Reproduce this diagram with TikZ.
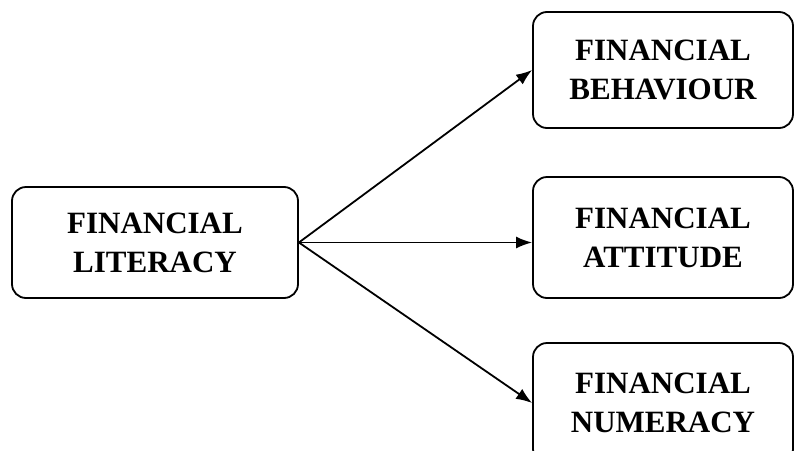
\documentclass[tikz,border=0pt]{standalone}
\usepackage{fontspec}
\setmainfont{Liberation Serif}
\usetikzlibrary{arrows.meta}
\tikzset{
box/.style={draw,line width=1.8pt,rounded corners=14pt,align=center,font=\fontsize{31}{39}\selectfont\bfseries,inner sep=0pt},
arr/.style={-{Latex[length=16pt,width=12pt]},line width=1.8pt}
}
\begin{document}
\begin{tikzpicture}[x=1pt,y=-1pt]
\useasboundingbox(0,0) rectangle (795,450);
\node[box,minimum width=286pt,minimum height=111pt](lit) at (155,242.5) {FINANCIAL\\LITERACY};
\node[box,minimum width=260pt,minimum height=116pt](beh) at (663,70) {FINANCIAL\\BEHAVIOUR};
\node[box,minimum width=260pt,minimum height=121pt](att) at (663,237.5) {FINANCIAL\\ATTITUDE};
\node[box,minimum width=260pt,minimum height=120pt](num) at (663,403) {FINANCIAL\\NUMERACY};
\draw[arr](lit.east)--(beh.west);
\draw[arr](lit.east)--(lit.east-|att.west);
\draw[arr](lit.east)--(num.west);
\end{tikzpicture}
\end{document}
